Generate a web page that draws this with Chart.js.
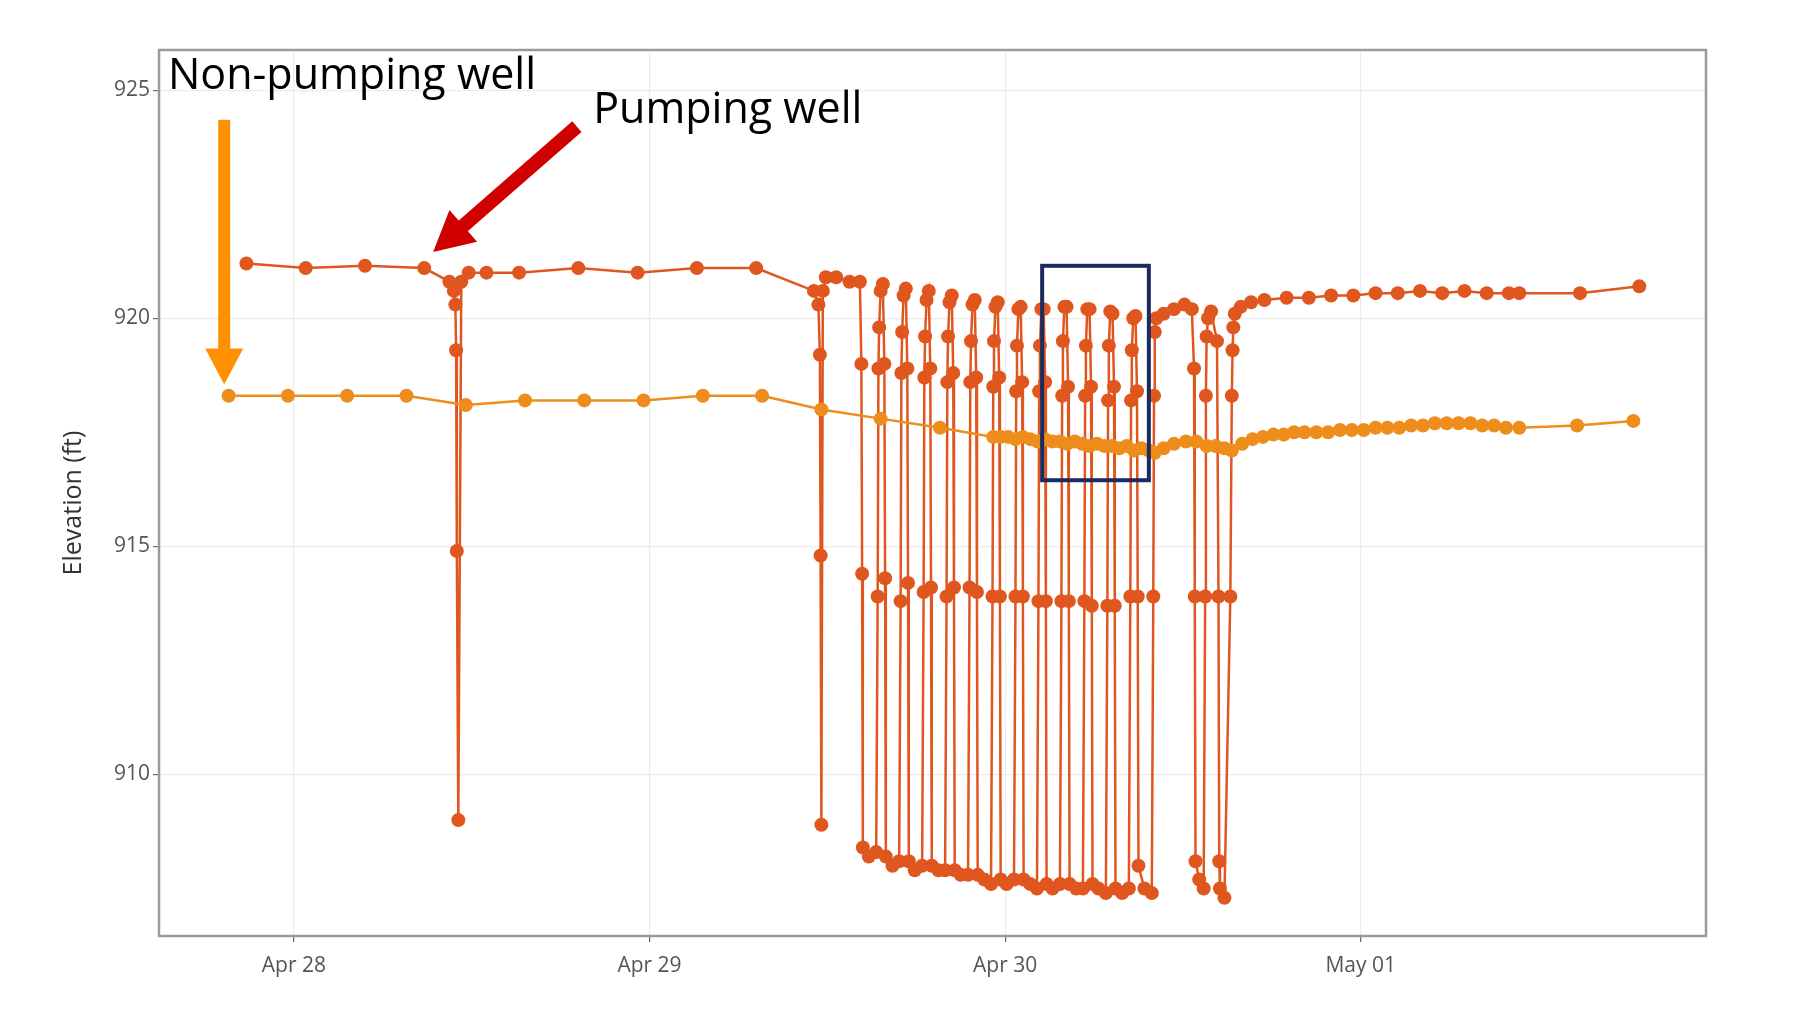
<!DOCTYPE html>
<html>
<head>
<meta charset="utf-8">
<script src="https://cdn.jsdelivr.net/npm/chart.js@4.4.1/dist/chart.umd.min.js"></script>
<style>
  html, body { margin: 0; padding: 0; background: #fff; }
  #wrap { width: 1804px; height: 1016px; }
</style>
</head>
<body>
<div id="wrap"><canvas id="wellChart" width="1804" height="1016"></canvas></div>
<script>
// Hours since Apr 28 00:00
const tickHours = [0, 24, 48, 72];
const tickLabels = ['Apr 28', 'Apr 29', 'Apr 30', 'May 01'];
const elevTicks = [910, 915, 920, 925];

// Non-pumping well
const obsHours = [-4.4, -0.4, 3.6, 7.6, 11.6, 15.6, 19.6, 23.6, 27.6, 31.6, 35.6, 39.6, 43.6,
  47.2, 47.7, 48.2, 48.7, 49.2, 49.7, 50.2, 50.7, 51.2, 51.7, 52.2, 52.7, 53.2, 53.7, 54.2, 54.7, 55.2, 55.7, 56.2, 56.7, 57.2, 57.7, 58.1,
  58.7, 59.4, 60.2, 60.9, 61.6, 62.2, 62.8, 63.3,
  64.0, 64.7, 65.4, 66.1, 66.8, 67.5, 68.2, 69.0, 69.8, 70.6, 71.4, 72.2, 73.0, 73.8, 74.6, 75.4, 76.2, 77.0, 77.8, 78.6, 79.4, 80.2, 81.0, 81.8, 82.7,
  86.6, 90.4];
const obsElev = [918.3, 918.3, 918.3, 918.3, 918.1, 918.2, 918.2, 918.2, 918.3, 918.3, 918.0, 917.8, 917.6,
  917.4, 917.4, 917.4, 917.35, 917.4, 917.35, 917.3, 917.35, 917.3, 917.3, 917.25, 917.3, 917.25, 917.2, 917.25, 917.2, 917.2, 917.15, 917.2, 917.1, 917.15, 917.1, 917.05,
  917.15, 917.25, 917.3, 917.3, 917.2, 917.2, 917.15, 917.1,
  917.25, 917.35, 917.4, 917.45, 917.45, 917.5, 917.5, 917.5, 917.5, 917.55, 917.55, 917.55, 917.6, 917.6, 917.6, 917.65, 917.65, 917.7, 917.7, 917.7, 917.7, 917.65, 917.65, 917.6, 917.6,
  917.65, 917.75];

// Pumping well
const pumpHours = [-3.2, 0.8, 4.8, 8.8, 10.5, 10.8, 10.9, 10.95, 11.0, 11.1, 11.3, 11.8, 13.0, 15.2, 19.2, 23.2, 27.2, 31.2, 35.1,
  35.4, 35.5, 35.55, 35.6, 35.7, 35.9, 36.6, 37.5,
  38.2, 38.3, 38.35, 38.4, 38.8, 39.3, 39.4, 39.45, 39.5, 39.6,
  39.75, 39.85, 39.9, 39.95, 40.4, 40.85, 40.95, 41.0, 41.05, 41.15,
  41.3, 41.4, 41.45, 41.5, 41.9, 42.4, 42.5, 42.55, 42.6, 42.7,
  42.85, 42.95, 43.0, 43.05, 43.5, 43.95, 44.05, 44.1, 44.15, 44.25,
  44.4, 44.5, 44.55, 44.6, 45.0, 45.5, 45.6, 45.65, 45.7, 45.8,
  45.95, 46.05, 46.1, 46.15, 46.6, 47.05, 47.15, 47.2, 47.25, 47.35,
  47.5, 47.6, 47.65, 47.7, 48.1, 48.6, 48.7, 48.75, 48.8, 48.9,
  49.05, 49.15, 49.2, 49.25, 49.7, 50.15, 50.25, 50.3, 50.35, 50.45,
  50.6, 50.7, 50.75, 50.8, 51.2, 51.7, 51.8, 51.85, 51.9, 52.0,
  52.15, 52.25, 52.3, 52.35, 52.8, 53.25, 53.35, 53.4, 53.45, 53.55,
  53.7, 53.8, 53.85, 53.9, 54.3, 54.8, 54.9, 54.95, 55.0, 55.1,
  55.25, 55.35, 55.4, 55.45, 55.9, 56.35, 56.45, 56.5, 56.55, 56.65,
  56.8, 56.9, 56.95, 57.0, 57.4, 57.9, 58.0, 58.05, 58.1, 58.2,
  58.7, 59.4, 60.1, 60.6,
  60.75, 60.8, 60.85, 61.1, 61.4, 61.5, 61.55, 61.6, 61.7, 61.9,
  62.3, 62.4, 62.45, 62.5, 62.8, 63.2, 63.3, 63.35, 63.4, 63.5,
  63.9, 64.6, 65.5, 67.0, 68.5, 70.0, 71.5, 73.0, 74.5, 76.0, 77.5, 79.0, 80.5, 82.0, 82.7,
  86.8, 90.8];
const pumpElev = [921.2, 921.1, 921.15, 921.1, 920.8, 920.6, 920.3, 919.3, 914.9, 909.0, 920.8, 921.0, 921.0, 921.0, 921.1, 921.0, 921.1, 921.1, 920.6,
  920.3, 919.2, 914.8, 908.9, 920.6, 920.9, 920.9, 920.8,
  920.8, 919.0, 914.4, 908.4, 908.2, 908.3, 913.9, 918.9, 919.8, 920.6,
  920.75, 919.0, 914.3, 908.2, 908.0, 908.1, 913.8, 918.8, 919.7, 920.5,
  920.65, 918.9, 914.2, 908.1, 907.9, 908.0, 914.0, 918.7, 919.6, 920.4,
  920.6, 918.9, 914.1, 908.0, 907.9, 907.9, 913.9, 918.6, 919.6, 920.35,
  920.5, 918.8, 914.1, 907.9, 907.8, 907.8, 914.1, 918.6, 919.5, 920.3,
  920.4, 918.7, 914.0, 907.8, 907.7, 907.6, 913.9, 918.5, 919.5, 920.25,
  920.35, 918.7, 913.9, 907.7, 907.6, 907.7, 913.9, 918.4, 919.4, 920.2,
  920.25, 918.6, 913.9, 907.7, 907.6, 907.5, 913.8, 918.4, 919.4, 920.2,
  920.2, 918.6, 913.8, 907.6, 907.5, 907.6, 913.8, 918.3, 919.5, 920.25,
  920.25, 918.5, 913.8, 907.6, 907.5, 907.5, 913.8, 918.3, 919.4, 920.2,
  920.2, 918.5, 913.7, 907.6, 907.5, 907.4, 913.7, 918.2, 919.4, 920.15,
  920.1, 918.5, 913.7, 907.5, 907.4, 907.5, 913.9, 918.2, 919.3, 920.0,
  920.05, 918.4, 913.9, 908.0, 907.5, 907.4, 913.9, 918.3, 919.7, 920.0,
  920.1, 920.2, 920.3, 920.2,
  918.9, 913.9, 908.1, 907.7, 907.5, 913.9, 918.3, 919.6, 920.0, 920.15,
  919.5, 913.9, 908.1, 907.5, 907.3, 913.9, 918.3, 919.3, 919.8, 920.1,
  920.25, 920.35, 920.4, 920.45, 920.45, 920.5, 920.5, 920.55, 920.55, 920.6, 920.55, 920.6, 920.55, 920.55, 920.55,
  920.55, 920.7];

// Annotations (data coordinates)
const obsArrow = { h: -4.7, from: 924.35, to: 918.55 };
const pumpArrow = { h1: 19.1, y1: 924.2, h2: 9.4, y2: 921.45 };
const focusBox = { h1: 50.5, h2: 57.7, y1: 921.15, y2: 916.45 };

const toPts = (xs, ys) => xs.map((x, i) => ({ x: x, y: ys[i] }));

const annotations = {
  id: 'annotations',
  afterDatasetsDraw(chart) {
    const c = chart.ctx, xs = chart.scales.x, ys = chart.scales.y;
    c.save();
    // focus box
    c.strokeStyle = '#1c2a5e';
    c.lineWidth = 4;
    c.strokeRect(xs.getPixelForValue(focusBox.h1), ys.getPixelForValue(focusBox.y1),
      xs.getPixelForValue(focusBox.h2) - xs.getPixelForValue(focusBox.h1),
      ys.getPixelForValue(focusBox.y2) - ys.getPixelForValue(focusBox.y1));
    // orange arrow
    const ax = xs.getPixelForValue(obsArrow.h);
    const ay1 = ys.getPixelForValue(obsArrow.from), ay2 = ys.getPixelForValue(obsArrow.to);
    c.fillStyle = '#ff9000';
    c.fillRect(ax - 6, ay1, 12, ay2 - ay1 - 34);
    c.beginPath();
    c.moveTo(ax - 19, ay2 - 36); c.lineTo(ax + 19, ay2 - 36); c.lineTo(ax, ay2); c.closePath(); c.fill();
    // red arrow
    const bx1 = xs.getPixelForValue(pumpArrow.h1), by1 = ys.getPixelForValue(pumpArrow.y1);
    const bx2 = xs.getPixelForValue(pumpArrow.h2), by2 = ys.getPixelForValue(pumpArrow.y2);
    const ang = Math.atan2(by2 - by1, bx2 - bx1);
    c.translate(bx2, by2); c.rotate(ang);
    const len = Math.hypot(bx2 - bx1, by2 - by1);
    c.fillStyle = '#d10000';
    c.fillRect(-len, -7, len - 36, 14);
    c.beginPath(); c.moveTo(0, 0); c.lineTo(-40, -21); c.lineTo(-40, 21); c.closePath(); c.fill();
    c.setTransform(1, 0, 0, 1, 0, 0);
    // labels
    c.fillStyle = '#000';
    c.font = '43px "Open Sans", "Noto Sans", sans-serif';
    c.textBaseline = 'middle';
    c.fillText('Non-pumping well', xs.getPixelForValue(-8.5), ys.getPixelForValue(925.3));
    c.fillText('Pumping well', xs.getPixelForValue(20.2), ys.getPixelForValue(924.55));
    // y title
    c.translate(74, (chart.chartArea.top + chart.chartArea.bottom) / 2 + 10);
    c.rotate(-Math.PI / 2);
    c.textAlign = 'center';
    c.fillStyle = '#333';
    c.font = '25px "Open Sans", sans-serif';
    c.fillText('Elevation (ft)', 0, 0);
    c.restore();
  }
};

const frame = {
  id: 'frame',
  afterDraw(chart) {
    const a = chart.chartArea, c = chart.ctx;
    c.save();
    c.strokeStyle = '#9a9a9a';
    c.lineWidth = 2.5;
    c.strokeRect(a.left, a.top, a.right - a.left, a.bottom - a.top);
    c.restore();
  }
};

new Chart(document.getElementById('wellChart').getContext('2d'), {
  type: 'line',
  data: {
    datasets: [
      {
        label: 'Non-pumping well',
        data: toPts(obsHours, obsElev),
        borderColor: '#ee8c1c',
        backgroundColor: '#ee8c1c',
        borderWidth: 2.5,
        pointRadius: 7,
        pointBorderWidth: 0,
        tension: 0
      },
      {
        label: 'Pumping well',
        data: toPts(pumpHours, pumpElev),
        borderColor: '#e0561f',
        backgroundColor: '#e0561f',
        borderWidth: 2.5,
        pointRadius: 7,
        pointBorderWidth: 0,
        tension: 0
      }
    ]
  },
  plugins: [annotations, frame],
  options: {
    responsive: false,
    animation: false,
    layout: { padding: { left: 0, right: 98, top: 50, bottom: 0 } },
    plugins: { legend: { display: false }, tooltip: { enabled: false } },
    scales: {
      x: {
        type: 'linear',
        min: -9.1,
        max: 95.3,
        afterBuildTicks: s => { s.ticks = tickHours.map(v => ({ value: v })); },
        afterFit: s => { s.height = 80; },
        ticks: {
          color: '#555',
          font: { size: 21, family: '"Open Sans", sans-serif' },
          padding: 11,
          callback: (v) => tickLabels[tickHours.indexOf(v)]
        },
        grid: { color: '#ececec', lineWidth: 1.2, tickLength: 6, tickColor: '#666' },
        border: { display: false }
      },
      y: {
        min: 906.46,
        max: 925.88,
        afterBuildTicks: s => { s.ticks = elevTicks.map(v => ({ value: v })); },
        afterFit: s => { s.width = 159; },
        ticks: {
          color: '#555',
          font: { size: 21, family: '"Open Sans", sans-serif' },
          padding: 3
        },
        grid: { color: '#ececec', lineWidth: 1.2, tickLength: 6, tickColor: '#666' },
        border: { display: false }
      }
    }
  }
});
</script>
</body>
</html>
